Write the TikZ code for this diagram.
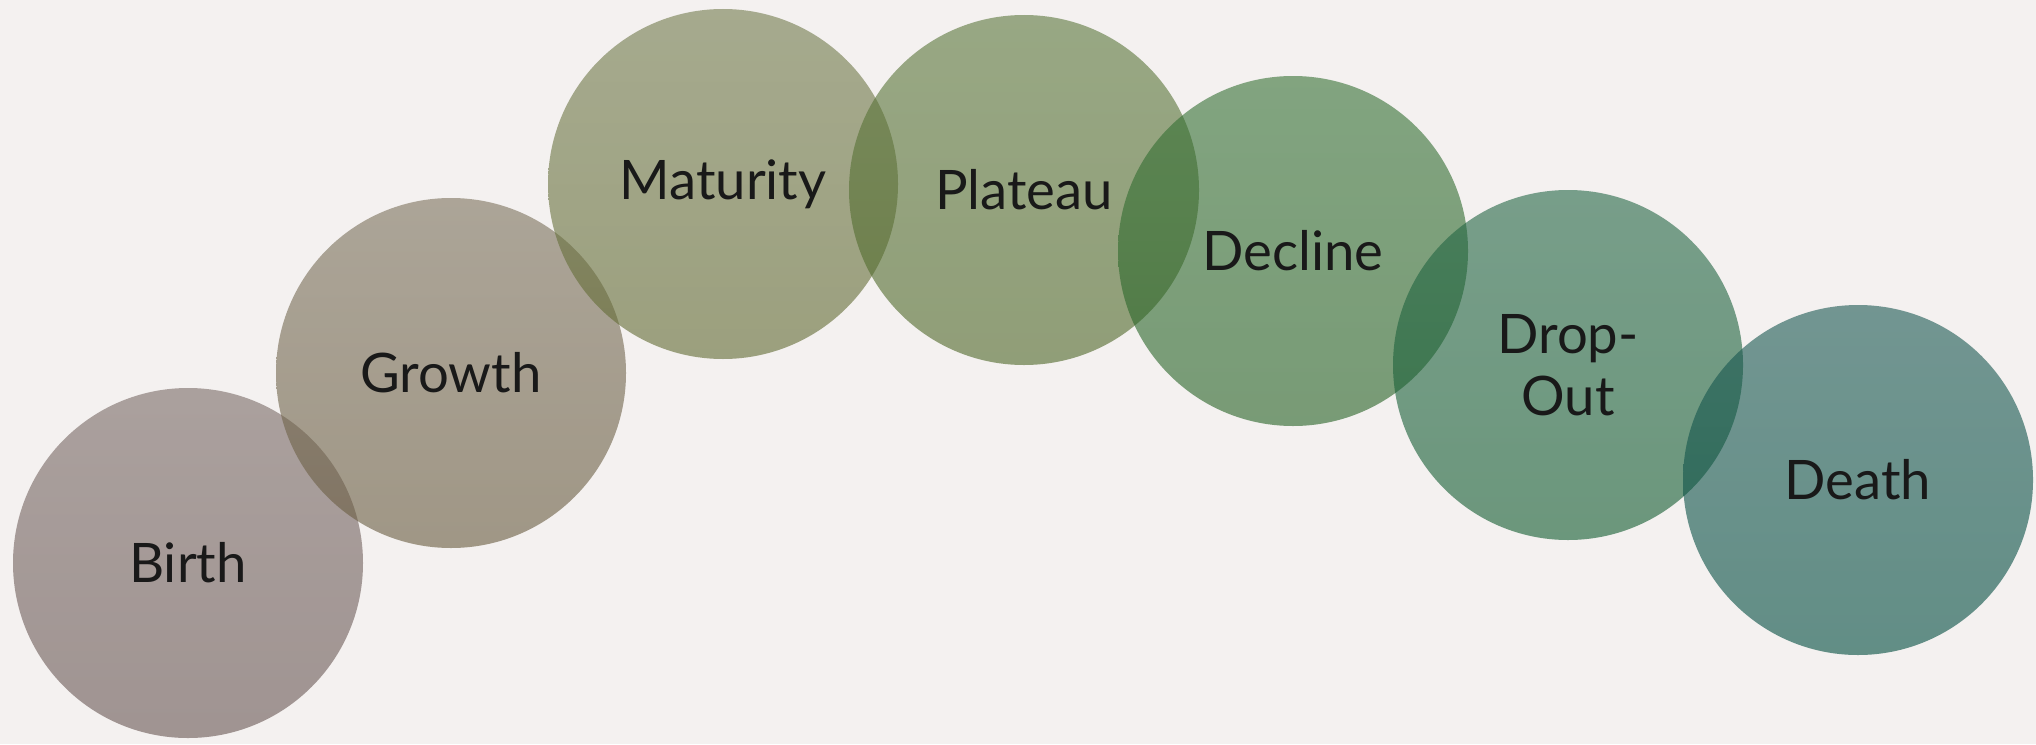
\documentclass[tikz,border=0pt]{standalone}
\usepackage{xcolor}
\usepackage{fontspec}
\setmainfont{Lato}
\usepackage{tikz}
\usetikzlibrary{positioning}

\definecolor{bgcol}{RGB}{244,241,240}
\definecolor{birthtop}{RGB}{122,107,103}
\definecolor{birthbot}{RGB}{104,86,83}
\definecolor{growthtop}{RGB}{124,114,93}
\definecolor{growthbot}{RGB}{104,91,63}
\definecolor{maturitytop}{RGB}{114,123,77}
\definecolor{maturitybot}{RGB}{97,106,50}
\definecolor{plateautop}{RGB}{91,119,60}
\definecolor{plateaubot}{RGB}{78,103,40}
\definecolor{declinetop}{RGB}{54,113,53}
\definecolor{declinebot}{RGB}{38,98,37}
\definecolor{dropouttop}{RGB}{37,103,70}
\definecolor{dropoutbot}{RGB}{17,91,47}
\definecolor{deathtop}{RGB}{28,89,83}
\definecolor{deathbot}{RGB}{1,76,63}

\tikzset{
    stage/.style={circle, minimum size=3.5cm, inner sep=0pt, align=center,
        fill opacity=0.6, text opacity=1, text=black!90,
        font=\fontsize{15.5pt}{17.5pt}\selectfont}
}

\begin{document}
\begin{tikzpicture}
        \fill[bgcol] (0,0) rectangle (20.36,7.44);
        \useasboundingbox (0,0) rectangle (20.36,7.44);

        % life cycle stages
        \node[stage, top color=birthtop, bottom color=birthbot] (birth) at (1.88,1.81) {Birth};
        \node[stage, top color=growthtop, bottom color=growthbot] (growth) at (4.51,3.71) {Growth};
        \node[stage, top color=maturitytop, bottom color=maturitybot] (maturity) at (7.23,5.60) {Maturity};
        \node[stage, top color=plateautop, bottom color=plateaubot] (plateau) at (10.24,5.54) {Plateau};
        \node[stage, top color=declinetop, bottom color=declinebot] (decline) at (12.93,4.93) {Decline};
        \node[stage, top color=dropouttop, bottom color=dropoutbot] (dropout) at (15.68,3.79) {Drop-\\Out};
        \node[stage, top color=deathtop, bottom color=deathbot] (death) at (18.58,2.64) {Death};
    \end{tikzpicture}
\end{document}
